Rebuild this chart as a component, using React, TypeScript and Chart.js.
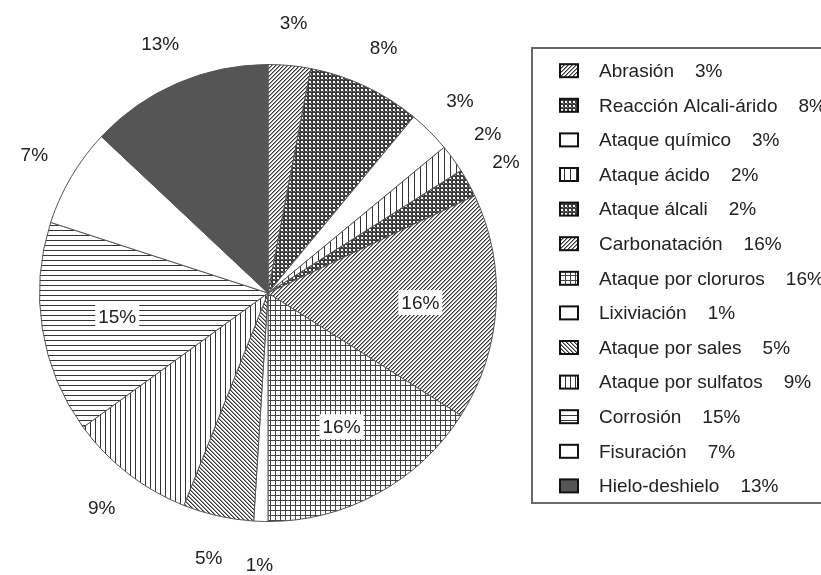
import React, { useEffect, useRef } from "react";
import { Chart, registerables } from "chart.js";

Chart.register(...registerables);

const categories = [
  "Abrasión",
  "Reacción Alcali-árido",
  "Ataque químico",
  "Ataque ácido",
  "Ataque álcali",
  "Carbonatación",
  "Ataque por cloruros",
  "Lixiviación",
  "Ataque por sales",
  "Ataque por sulfatos",
  "Corrosión",
  "Fisuración",
  "Hielo-deshielo",
];
const percentages = [3, 8, 3, 2, 2, 16, 16, 1, 5, 9, 15, 7, 13];
const fillKinds = [
  "diagUp",
  "dots",
  "blank",
  "vlinesWide",
  "dots",
  "diagUp",
  "grid",
  "blank",
  "diagDown",
  "vlines",
  "hlines",
  "blank",
  "solid",
];

const FONT = '19px "Liberation Sans", Arial, sans-serif';

function makeFill(ctx: CanvasRenderingContext2D, kind: string): CanvasPattern | string {
  if (kind === "blank") return "#ffffff";
  if (kind === "solid") return "#555555";
  const t = document.createElement("canvas");
  let w = 4, h = 4;
  if (kind === "vlines") { w = 5; h = 1; }
  if (kind === "vlinesWide") { w = 6; h = 1; }
  if (kind === "hlines") { w = 1; h = 5; }
  if (kind === "grid") { w = 5; h = 5; }
  t.width = w; t.height = h;
  const c = t.getContext("2d")!;
  c.fillStyle = "#ffffff";
  c.fillRect(0, 0, w, h);
  if (kind === "diagUp" || kind === "diagDown") {
    for (let x = 0; x < w; x++) {
      for (let y = 0; y < h; y++) {
        const k = kind === "diagUp" ? (x + y) % 4 : (x - y + 8) % 4;
        if (k === 0) { c.fillStyle = "#333333"; c.fillRect(x, y, 1, 1); }
        else if (k === 1) { c.fillStyle = "#9a9a9a"; c.fillRect(x, y, 1, 1); }
      }
    }
  } else if (kind === "dots") {
    c.fillStyle = "#3a3a3a";
    c.fillRect(0, 0, 4, 4);
    c.fillStyle = "#ffffff";
    c.fillRect(1, 1, 2, 2);
    c.fillStyle = "#8a8a8a";
    c.fillRect(3, 3, 1, 1);
  } else if (kind === "vlines" || kind === "vlinesWide") {
    c.fillStyle = "#333333";
    c.fillRect(0, 0, 1, h);
  } else if (kind === "hlines") {
    c.fillStyle = "#333333";
    c.fillRect(0, 0, w, 1);
  } else if (kind === "grid") {
    c.fillStyle = "#444444";
    c.fillRect(0, 0, w, 1);
    c.fillRect(0, 0, 1, h);
  }
  return ctx.createPattern(t, "repeat")!;
}

export default function App() {
  const ref = useRef<HTMLCanvasElement | null>(null);

  useEffect(() => {
    const canvas = ref.current!;
    const ctx = canvas.getContext("2d")!;
    const fills = fillKinds.map((k) => makeFill(ctx, k));

    const labelPlugin = {
      id: "pctLabels",
      afterDatasetsDraw(chart: any) {
        const c = chart.ctx as CanvasRenderingContext2D;
        const meta = chart.getDatasetMeta(0);
        c.save();
        c.font = FONT;
        c.textAlign = "center";
        c.textBaseline = "middle";
        meta.data.forEach((arc: any, i: number) => {
          const p = arc.getProps(["x", "y", "startAngle", "endAngle", "outerRadius"], true);
          const mid = (p.startAngle + p.endAngle) / 2;
          const v = percentages[i];
          const inside = v >= 15;
          const r = p.outerRadius * (inside ? 0.668 : 1.188);
          const lx = p.x + Math.cos(mid) * r;
          const ly = p.y + Math.sin(mid) * r;
          const txt = `${v}%`;
          if (inside) {
            const tw = c.measureText(txt).width;
            c.fillStyle = "#ffffff";
            c.fillRect(lx - tw / 2 - 3, ly - 12.5, tw + 6, 25);
          }
          c.fillStyle = "#222222";
          c.fillText(txt, lx, ly + 1);
        });
        c.restore();
      },
    };

    const legendPlugin = {
      id: "boxLegend",
      afterDraw(chart: any) {
        const c = chart.ctx as CanvasRenderingContext2D;
        c.save();
        c.strokeStyle = "#6a6a6a";
        c.lineWidth = 2;
        c.beginPath();
        c.moveTo(840, 48);
        c.lineTo(532, 48);
        c.lineTo(532, 503);
        c.lineTo(840, 503);
        c.stroke();
        c.font = FONT;
        c.textAlign = "left";
        c.textBaseline = "middle";
        const y0 = 70.7;
        const step = 34.6;
        categories.forEach((name, i) => {
          const y = y0 + i * step;
          const ix = 560, iw = 18, ih = 13;
          c.fillStyle = fills[i] as any;
          c.fillRect(ix, y - ih / 2, iw, ih);
          c.strokeStyle = "#111111";
          c.lineWidth = 2;
          c.strokeRect(ix, y - ih / 2, iw, ih);
          c.fillStyle = "#222222";
          c.fillText(name, 599, y + 1);
          const nw = c.measureText(name).width;
          c.fillText(`${percentages[i]}%`, 599 + nw + 21, y + 1);
        });
        c.restore();
      },
    };

    const chart = new Chart(canvas, {
      type: "pie",
      data: {
        labels: categories,
        datasets: [
          {
            data: percentages,
            backgroundColor: fills as any,
            borderColor: "#555555",
            borderWidth: 1,
          },
        ],
      },
      options: {
        responsive: false,
        animation: false,
        events: [],
        layout: { padding: { left: 39, top: 64, right: 324, bottom: 53 } },
        plugins: {
          legend: { display: false },
          tooltip: { enabled: false },
        },
      },
      plugins: [labelPlugin, legendPlugin],
    });
    return () => chart.destroy();
  }, []);

  return (
    <div style={{ position: "absolute", left: 0, top: 0, width: 821, height: 575, background: "#ffffff" }}>
      <canvas ref={ref} width={821} height={575} style={{ display: "block" }} />
    </div>
  );
}
